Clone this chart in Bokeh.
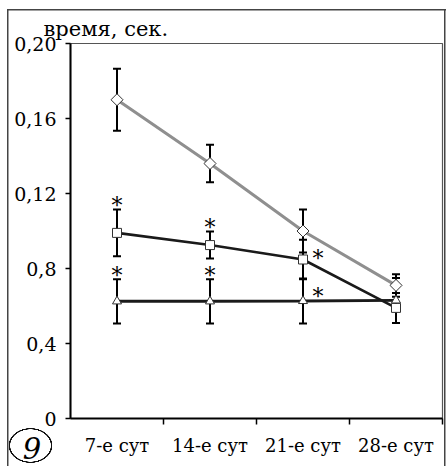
from bokeh.plotting import figure
from bokeh.models import (ColumnDataSource, Range1d, FixedTicker, Whisker, TeeHead,
                          Label)
from bokeh.core.properties import value
from bokeh.embed import file_html
from bokeh.resources import INLINE
import math

# ---- data ----
categories = ["7-е сут", "14-е сут", "21-е сут", "28-е сут"]
x_pos = [0.5, 1.5, 2.5, 3.5]

diamond_vals = [0.170, 0.136, 0.100, 0.071]
diamond_err = [0.0165, 0.010, 0.0115, 0.006]

square_vals = [0.099, 0.0925, 0.0848, 0.059]
square_err = [0.0125, 0.0072, 0.0105, 0.008]

triangle_vals = [0.0625, 0.0625, 0.0627, 0.063]
triangle_err = [0.0118, 0.0118, 0.0120, 0.0120]

y_ticks = [0.0, 0.04, 0.08, 0.12, 0.16, 0.20]
y_tick_labels = ["0", "0,4", "0,8", "0,12", "0,16", "0,20"]

y_title = "время, сек."
panel_label = "9"

square_star_above = [0, 1]
triangle_star_above = [0, 1]
square_star_side = [2]
triangle_star_side = [2]

SERIF = "DejaVu Serif"

p = figure(width=448, height=466, output_backend="svg", toolbar_location=None,
           x_range=Range1d(0, 4), y_range=Range1d(0, 0.20),
           min_border_left=70, min_border_right=6, min_border_top=43, min_border_bottom=48)
p.xgrid.visible = False
p.ygrid.visible = False
p.outline_line_color = "#555555"
p.outline_line_width = 1.2
p.background_fill_color = "white"
p.border_fill_color = None

# outer frame and circle around panel number, drawn as page decoration
p.styles = {
    "background": ", ".join([
        "radial-gradient(22px 17.5px at 30.5px 445.5px, rgba(0,0,0,0) 91.5%, #111 93%, #111 98.5%, rgba(0,0,0,0) 100%) no-repeat",
        "linear-gradient(#444,#444) 6.5px 8.5px / 1.5px 100% no-repeat",
        "linear-gradient(#444,#444) 6.5px 8.5px / 439px 1.5px no-repeat",
        "linear-gradient(#444,#444) 444px 8.5px / 1.5px 100% no-repeat",
        "white",
    ])
}

# axes
p.yaxis.ticker = FixedTicker(ticks=y_ticks)
p.yaxis.major_label_overrides = {t: l for t, l in zip(y_ticks, y_tick_labels)}
p.yaxis.major_label_text_font = SERIF
p.yaxis.major_label_text_font_size = "19px"
p.yaxis.major_label_text_color = "black"
p.yaxis.major_tick_in = 0
p.yaxis.major_tick_out = 5
p.yaxis.minor_tick_line_color = None
p.yaxis.axis_line_width = 2
p.yaxis.major_tick_line_width = 1.5
p.yaxis.major_label_standoff = 9

# panel number as the y-axis label, placed at the axis start (blank lines push it down)
yax = p.yaxis[0]
yax.axis_label = "\n\n" + panel_label
yax.axis_label_text_font = SERIF
yax.axis_label_text_font_style = "italic"
yax.axis_label_text_font_size = "29px"
yax.axis_label_text_line_height = 0.9
yax.axis_label_text_color = "black"
yax.axis_label_orientation = "horizontal"
yax.axis_label_standoff = -30
yax.axis_label_align = "start"

p.xaxis.ticker = FixedTicker(ticks=x_pos, minor_ticks=[1, 2, 3, 4])
p.xaxis.major_label_overrides = {t: c for t, c in zip(x_pos, categories)}
p.xaxis.major_label_text_font = SERIF
p.xaxis.major_label_text_font_size = "18px"
p.xaxis.major_label_text_color = "black"
p.xaxis.major_tick_in = 0
p.xaxis.major_tick_out = 0
p.xaxis.minor_tick_in = 0
p.xaxis.minor_tick_out = 6
p.xaxis.minor_tick_line_width = 1.5
p.xaxis.minor_tick_line_color = "black"
p.xaxis.axis_line_width = 2
p.xaxis.major_label_standoff = 10

# series lines
p.line(x_pos, diamond_vals, line_color="#8f8f8f", line_width=3)
p.line(x_pos, square_vals, line_color="#1a1a1a", line_width=2.6)
p.line(x_pos, triangle_vals, line_color="#1a1a1a", line_width=3)

# markers
p.scatter(x_pos, diamond_vals, marker="square", angle=math.pi / 4, size=8.5,
          fill_color="white", line_color="#333333", line_width=1)
p.scatter(x_pos, square_vals, marker="square", size=9,
          fill_color="white", line_color="#333333", line_width=1)
p.scatter(x_pos, triangle_vals, marker="triangle", size=9,
          fill_color="white", line_color="#333333", line_width=1)

# error bars
for vals, errs in ((diamond_vals, diamond_err), (square_vals, square_err),
                   (triangle_vals, triangle_err)):
    src = ColumnDataSource(dict(x=x_pos,
                                upper=[v + e for v, e in zip(vals, errs)],
                                lower=[v - e for v, e in zip(vals, errs)]))
    p.add_layout(Whisker(source=src, base="x", upper="upper", lower="lower",
                         line_color="black", line_width=2,
                         upper_head=TeeHead(size=8, line_width=2, line_color="black"),
                         lower_head=TeeHead(size=8, line_width=2, line_color="black")))

# asterisks
def star_above(vals, errs, idx):
    p.text([x_pos[i] for i in idx], [vals[i] + errs[i] for i in idx], text=["*"] * len(idx),
           text_font=value(SERIF), text_font_size="22px", text_align="center",
           text_baseline="middle", y_offset=-4, text_color="black")

def star_side(vals, idx, dy):
    p.text([x_pos[i] for i in idx], [vals[i] for i in idx], text=["*"] * len(idx),
           text_font=value(SERIF), text_font_size="22px", text_align="center",
           text_baseline="middle", x_offset=15, y_offset=dy, text_color="black")

star_above(square_vals, square_err, square_star_above)
star_above(triangle_vals, triangle_err, triangle_star_above)
star_side(square_vals, square_star_side, -1)
star_side(triangle_vals, triangle_star_side, -4)

# y-axis title (in the above panel, canvas units)
p.add_layout(Label(x=43, y=28, x_units="canvas", y_units="canvas", text=y_title,
                   text_font=SERIF, text_font_size="21px", text_color="black",
                   text_baseline="alphabetic", text_align="left"), "above")

open("out.html", "w").write(file_html(p, INLINE))
